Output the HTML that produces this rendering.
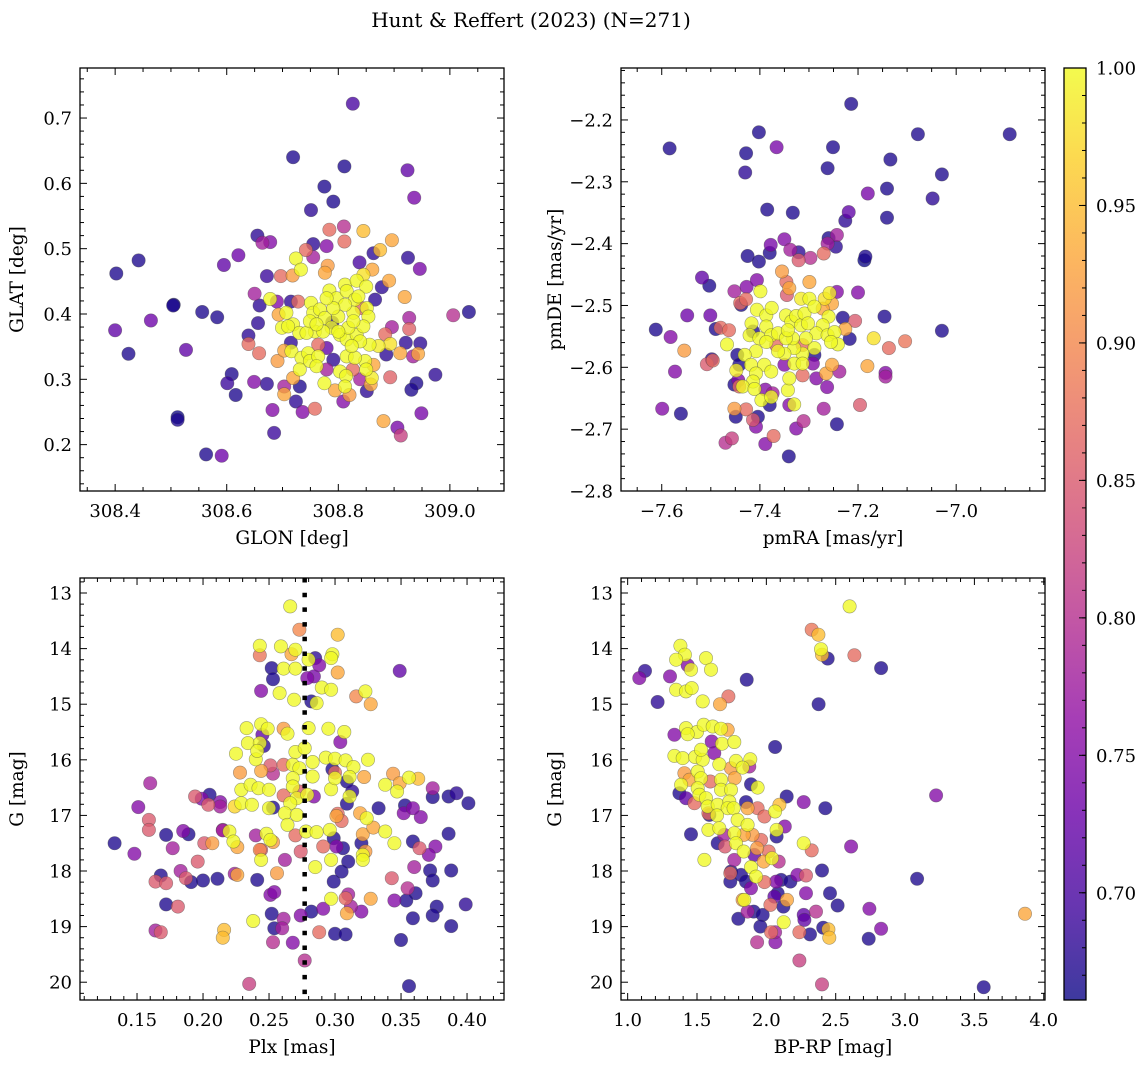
<!DOCTYPE html>
<html><head><meta charset="utf-8"><style>
html,body{margin:0;padding:0;background:#fff;}
svg{display:block;font-family:"DejaVu Serif","Liberation Serif",serif;}
</style></head><body>
<svg id="fig" width="1148" height="1068" viewBox="0 0 1148 1068" xmlns="http://www.w3.org/2000/svg">
<text x="531" y="27" font-size="20" text-anchor="middle">Hunt &amp; Reffert (2023) (N=271)</text>
</svg>
<script>
// ---------- DATA ----------
const tlPoints = [[308.826,0.722,.70],[308.719,0.640,.67],[308.811,0.626,.67],[308.924,0.620,.72],[308.775,0.595,.67],[308.936,0.578,.74],[308.791,0.572,.67],[308.751,0.559,.68],[308.402,0.462,.67],[308.442,0.482,.67],[308.504,0.413,.67],[308.505,0.414,.66],[308.556,0.403,.67],[308.583,0.395,.67],[308.400,0.375,.72],[308.464,0.390,.73],[308.424,0.339,.67],[308.527,0.345,.72],[308.595,0.475,.72],[308.621,0.490,.73],[308.655,0.520,.68],[308.664,0.509,.78],[308.678,0.510,.75],[308.672,0.458,.69],[308.609,0.308,.67],[308.601,0.294,.69],[308.616,0.276,.67],[308.512,0.242,.66],[308.512,0.238,.67],[308.563,0.185,.67],[308.591,0.183,.73],[308.649,0.296,.75],[308.672,0.293,.68],[308.682,0.253,.75],[308.685,0.218,.69],[308.703,0.289,.78],[308.703,0.277,.93],[308.731,0.289,.67],[308.724,0.266,.68],[308.736,0.250,.75],[308.758,0.255,.87],[308.809,0.266,.75],[308.820,0.276,.92],[308.794,0.283,.93],[308.851,0.282,.68],[308.858,0.292,.93],[308.839,0.300,.78],[308.893,0.303,.86],[308.940,0.294,.67],[308.931,0.284,.67],[308.974,0.307,.68],[308.949,0.248,.74],[308.881,0.236,.93],[308.906,0.226,.74],[308.912,0.214,.82],[309.034,0.403,.67],[309.006,0.398,.80],[308.925,0.486,.68],[308.946,0.469,.74],[308.896,0.513,.93],[308.875,0.498,.95],[308.845,0.527,.95],[308.784,0.529,.87],[308.810,0.534,.80],[308.811,0.511,.87],[308.779,0.504,.75],[308.755,0.507,.68],[308.742,0.498,.87],[308.755,0.487,.78],[308.863,0.493,.68],[308.838,0.479,.70],[308.781,0.474,.92],[308.776,0.463,.93],[308.697,0.458,.87],[308.718,0.459,.92],[308.861,0.468,.93],[308.891,0.451,.93],[308.878,0.441,.68],[308.919,0.426,.93],[308.650,0.431,.78],[308.659,0.413,.68],[308.656,0.386,.68],[308.927,0.394,.78],[308.927,0.377,.86],[308.896,0.380,.78],[308.884,0.369,.87],[308.921,0.356,.68],[308.947,0.355,.68],[308.911,0.340,.93],[308.934,0.335,.78],[308.943,0.339,.93],[308.886,0.338,.68],[308.863,0.322,.93],[308.826,0.315,.87],[308.639,0.367,.68],[308.639,0.354,.87],[308.658,0.340,.87],[308.691,0.328,.92],[308.703,0.344,.93],[308.719,0.302,.93],[308.715,0.356,.68],[308.693,0.399,.93],[308.690,0.419,.75],[308.715,0.419,.68],[308.728,0.419,.87],[308.789,0.387,.68],[308.791,0.330,.68],[308.779,0.315,.78],[308.779,0.348,.72],[308.764,0.353,.87],[308.866,0.422,.68],[308.842,0.409,.87],
[308.724,0.485,1],[308.733,0.468,1],[308.678,0.423,1],[308.707,0.402,1],[308.699,0.379,1],[308.719,0.384,1],[308.730,0.371,1],[308.716,0.343,1],[308.734,0.333,1],[308.746,0.340,1],[308.731,0.315,1],[308.749,0.328,1],[308.764,0.335,1],[308.751,0.417,1],[308.755,0.402,1],[308.767,0.407,1],[308.776,0.394,1],[308.784,0.436,1],[308.797,0.424,1],[308.812,0.445,1],[308.815,0.435,1],[308.833,0.451,1],[308.845,0.460,.98],[308.850,0.442,1],[308.830,0.422,1],[308.836,0.427,1],[308.851,0.409,1],[308.854,0.396,1],[308.827,0.402,1],[308.812,0.414,1],[308.800,0.396,1],[308.788,0.379,1],[308.803,0.368,1],[308.815,0.361,1],[308.833,0.368,1],[308.845,0.381,1],[308.856,0.353,1],[308.872,0.351,.99],[308.893,0.354,.98],[308.848,0.328,1],[308.850,0.315,1],[308.860,0.302,.99],[308.815,0.335,1],[308.830,0.333,1],[308.803,0.312,1],[308.814,0.305,1],[308.775,0.294,1],[308.812,0.289,1],[308.761,0.320,1],[308.758,0.373,1],[308.773,0.373,1],[308.743,0.371,1],[308.749,0.389,1],[308.710,0.381,1],[308.818,0.379,1],[308.827,0.389,1],[308.800,0.373,1],[308.839,0.358,1],[308.824,0.351,1],[308.791,0.409,1],[308.779,0.424,1],[308.761,0.384,1]];

const trPoints = [[-7.214,-2.174,.67],[-7.402,-2.220,.67],[-7.584,-2.246,.67],[-7.428,-2.254,.67],[-7.430,-2.285,.68],[-7.366,-2.244,.74],[-7.251,-2.244,.67],[-7.262,-2.278,.67],[-7.134,-2.264,.67],[-7.078,-2.223,.67],[-6.891,-2.223,.67],[-7.029,-2.288,.67],[-7.048,-2.327,.68],[-7.180,-2.319,.74],[-7.141,-2.311,.67],[-7.141,-2.358,.67],[-7.219,-2.349,.72],[-7.226,-2.363,.68],[-7.385,-2.345,.67],[-7.333,-2.350,.67],[-7.350,-2.393,.75],[-7.378,-2.402,.74],[-7.380,-2.415,.67],[-7.425,-2.420,.67],[-7.402,-2.429,.67],[-7.338,-2.410,.78],[-7.321,-2.414,.68],[-7.321,-2.427,.85],[-7.297,-2.423,.80],[-7.260,-2.391,.67],[-7.243,-2.386,.78],[-7.245,-2.405,.68],[-7.262,-2.400,.78],[-7.270,-2.416,.87],[-7.185,-2.421,.67],[-7.187,-2.427,.66],[-7.518,-2.455,.72],[-7.503,-2.468,.67],[-7.548,-2.516,.73],[-7.501,-2.516,.73],[-7.612,-2.539,.67],[-7.582,-2.551,.75],[-7.554,-2.573,.92],[-7.029,-2.541,.67],[-7.146,-2.518,.67],[-7.573,-2.607,.75],[-7.599,-2.667,.75],[-7.561,-2.675,.67],[-7.508,-2.595,.85],[-7.496,-2.589,.87],[-7.498,-2.587,.68],[-7.490,-2.538,.67],[-7.480,-2.536,.87],[-7.463,-2.540,.87],[-7.470,-2.722,.80],[-7.457,-2.715,.82],[-7.389,-2.724,.75],[-7.372,-2.711,.87],[-7.341,-2.744,.67],[-7.326,-2.699,.75],[-7.311,-2.687,.80],[-7.243,-2.692,.67],[-7.270,-2.667,.78],[-7.196,-2.661,.85],[-7.144,-2.609,.75],[-7.144,-2.615,.78],[-7.137,-2.569,.87],[-7.104,-2.558,.88],[-7.181,-2.598,.93],[-7.168,-2.553,.98],[-7.206,-2.525,.85],[-7.226,-2.538,.93],[-7.231,-2.520,.67],[-7.217,-2.554,.67],[-7.200,-2.479,.75],[-7.238,-2.607,.78],[-7.263,-2.632,.75],[-7.285,-2.618,.75],[-7.265,-2.610,.93],[-7.253,-2.596,.93],[-7.452,-2.667,.92],[-7.428,-2.668,.87],[-7.449,-2.680,.67],[-7.404,-2.680,.67],[-7.414,-2.685,.85],[-7.408,-2.696,.75],[-7.380,-2.661,.67],[-7.374,-2.642,.78],[-7.452,-2.628,.67],[-7.444,-2.621,.75],[-7.442,-2.631,.87],[-7.446,-2.580,.67],[-7.442,-2.596,.67],[-7.438,-2.499,.67],[-7.440,-2.496,.87],[-7.428,-2.490,.87],[-7.452,-2.477,.78],[-7.427,-2.470,.75],[-7.406,-2.459,.75],[-7.355,-2.445,.92],[-7.346,-2.462,.87],[-7.340,-2.472,.93],[-7.345,-2.483,.85],[-7.299,-2.462,.93],[-7.243,-2.478,.75],[-7.253,-2.497,.93],[-7.272,-2.505,.93],[-7.389,-2.636,.75],[-7.340,-2.661,.75],[-7.313,-2.613,.87],[-7.292,-2.594,.75],[-7.289,-2.580,.67],[-7.350,-2.596,.75],[-7.313,-2.564,.87],[-7.367,-2.564,.87],[-7.414,-2.542,.67],
[-7.399,-2.477,1],[-7.406,-2.507,1],[-7.387,-2.516,1],[-7.376,-2.504,1],[-7.417,-2.529,1],[-7.387,-2.534,1],[-7.421,-2.548,1],[-7.401,-2.553,1],[-7.377,-2.548,1],[-7.363,-2.545,1],[-7.347,-2.516,1],[-7.336,-2.526,1],[-7.326,-2.517,1],[-7.316,-2.532,1],[-7.309,-2.513,1],[-7.316,-2.489,.99],[-7.299,-2.489,1],[-7.289,-2.502,1],[-7.268,-2.489,.98],[-7.258,-2.480,.99],[-7.260,-2.518,1],[-7.272,-2.532,1],[-7.285,-2.545,1],[-7.262,-2.548,1],[-7.248,-2.543,1],[-7.241,-2.563,1],[-7.255,-2.559,1],[-7.289,-2.569,1],[-7.313,-2.578,1],[-7.330,-2.569,1],[-7.350,-2.578,1],[-7.333,-2.553,1],[-7.347,-2.553,1],[-7.363,-2.574,1],[-7.387,-2.559,1],[-7.408,-2.574,1],[-7.431,-2.580,1],[-7.448,-2.605,.99],[-7.418,-2.596,1],[-7.391,-2.596,1],[-7.377,-2.607,1],[-7.408,-2.610,1],[-7.414,-2.623,1],[-7.435,-2.631,1],[-7.411,-2.635,1],[-7.397,-2.653,1],[-7.377,-2.648,1],[-7.343,-2.637,1],[-7.340,-2.618,1],[-7.330,-2.594,1],[-7.313,-2.594,1],[-7.343,-2.540,1],[-7.306,-2.553,1],[-7.302,-2.529,1],[-7.467,-2.563,1],[-7.330,-2.660,1]];

const blPoints = [[0.266,13.24,1],[0.273,13.66,.9],[0.302,13.75,.95],[0.243,13.95,1],[0.243,14.12,.88],[0.259,13.96,1],[0.270,14.02,1],[0.267,14.10,.93],[0.285,14.17,.68],[0.280,14.20,1],[0.298,14.10,1],[0.297,14.17,1],[0.252,14.35,.67],[0.288,14.30,.75],[0.261,14.36,1],[0.270,14.36,1],[0.253,14.55,.67],[0.284,14.50,.74],[0.279,14.53,.75],[0.302,14.43,.93],[0.349,14.40,.72],[0.244,14.76,.75],[0.258,14.80,1],[0.290,14.70,1],[0.297,14.74,1],[0.269,14.92,1],[0.282,14.95,.67],[0.286,14.98,1],[0.316,14.86,.9],[0.323,14.77,1],[0.327,15.00,.93],[0.233,15.43,1],[0.244,15.36,1],[0.249,15.44,1],[0.261,15.44,.92],[0.264,15.53,1],[0.280,15.43,1],[0.295,15.44,1],[0.307,15.50,1],[0.304,15.68,.75],[0.245,15.55,.72],[0.234,15.70,1],[0.243,15.70,1],[0.246,15.75,.68],[0.225,15.89,1],[0.240,15.99,1],[0.241,15.84,1],[0.270,15.86,1],[0.277,15.79,1],[0.283,16.04,1],[0.293,15.96,1],[0.300,15.98,1],[0.308,16.01,1],[0.325,16.00,1],[0.314,16.13,1],[0.311,16.31,1],[0.251,16.10,.85],[0.261,16.09,.87],[0.228,16.23,.92],[0.244,16.20,.93],[0.253,16.25,.80],[0.298,16.17,.67],[0.300,16.23,.87],[0.322,16.31,.93],[0.344,16.25,.92],[0.356,16.32,1],[0.363,16.34,.95],[0.349,16.42,.93],[0.338,16.45,1],[0.347,16.57,1],[0.268,16.09,1],[0.273,16.15,1],[0.268,16.33,1],[0.283,16.30,1],[0.297,16.53,1],[0.300,16.33,1],[0.309,16.39,.67],[0.313,16.57,.68],[0.229,16.54,1],[0.236,16.45,1],[0.242,16.51,1],[0.250,16.54,1],[0.229,16.78,1],[0.237,16.81,1],[0.224,16.84,.97],[0.250,16.87,1],[0.253,16.86,.67],[0.268,16.48,1],[0.271,16.69,1],[0.266,16.78,1],[0.261,16.64,.87],[0.284,16.66,.75],[0.279,16.63,1],[0.273,16.57,.85],[0.311,16.66,1],[0.309,16.79,.67],[0.262,16.96,1],[0.271,16.99,1],[0.264,17.17,1],[0.319,16.96,.93],[0.324,17.05,1],[0.302,16.97,.87],[0.305,17.10,.87],[0.301,17.01,.93],[0.333,16.87,.67],[0.352,16.96,.75],[0.365,17.03,.75],[0.353,16.82,.67],[0.374,16.67,.67],[0.386,16.66,.67],[0.392,16.60,.68],[0.401,16.78,.67],[0.374,16.51,.78],[0.359,16.87,.75],[0.220,17.29,1],[0.223,17.47,1],[0.226,17.57,.93],[0.244,17.80,1],[0.243,17.62,.9],[0.240,17.36,.78],[0.248,17.33,1],[0.253,17.48,.92],[0.251,17.44,1],[0.215,17.26,.78],[0.270,17.36,.87],[0.278,17.29,1],[0.286,17.30,1],[0.296,17.26,1],[0.297,17.80,1],[0.321,17.71,1],[0.321,17.80,1],[0.299,17.41,.67],[0.306,17.59,.67],[0.301,17.56,.75],[0.291,17.56,.87],[0.285,17.93,1],[0.244,17.62,.85],[0.274,17.65,.85],[0.262,17.80,.78],[0.310,17.83,.67],[0.305,18.01,.67],[0.321,17.34,.93],[0.329,17.22,.93],[0.338,17.29,1],[0.345,17.50,1],[0.320,17.50,.67],[0.323,17.65,.92],[0.376,17.56,.75],[0.364,17.59,.85],[0.371,17.71,.75],[0.359,17.47,.67],[0.386,17.33,.67],[0.360,17.93,.78],[0.372,17.99,.67],[0.374,18.17,.67],[0.388,17.99,.67],[0.355,18.31,.80],[0.361,18.40,.67],[0.354,18.53,.67],[0.345,18.53,.75],[0.377,18.64,.67],[0.374,18.80,.67],[0.359,18.85,.67],[0.388,18.99,.67],[0.399,18.60,.68],[0.350,19.24,.67],[0.356,20.07,.67],[0.343,18.13,.85],[0.327,18.50,.93],[0.308,18.49,.87],[0.309,18.76,.93],[0.312,18.64,.78],[0.320,18.73,.75],[0.310,18.42,.78],[0.297,18.50,1],[0.299,18.19,.67],[0.282,18.73,.67],[0.291,18.68,.75],[0.274,18.80,.75],[0.252,18.77,.67],[0.261,18.86,.78],[0.260,19.03,.78],[0.254,19.03,.67],[0.288,19.10,.87],[0.300,19.13,.67],[0.308,19.14,.67],[0.253,19.28,.80],[0.268,19.29,.75],[0.277,19.61,.80],[0.235,20.03,.82],[0.238,18.90,1],[0.216,19.06,.95],[0.215,19.20,.95],[0.251,18.43,.75],[0.254,18.38,.75],[0.241,18.16,.67],[0.256,18.04,.92],[0.226,18.07,.93],[0.224,18.05,.78],[0.211,18.14,.67],[0.200,18.17,.67],[0.191,18.20,.67],[0.187,18.13,.85],[0.183,18.00,.78],[0.168,18.08,.67],[0.164,18.19,.85],[0.172,18.22,.85],[0.172,18.60,.67],[0.181,18.64,.85],[0.164,19.07,.78],[0.168,19.10,.85],[0.133,17.50,.67],[0.148,17.69,.75],[0.151,16.85,.75],[0.160,16.42,.78],[0.159,17.08,.85],[0.159,17.26,.85],[0.172,17.35,.67],[0.177,17.59,.78],[0.185,17.28,.75],[0.189,17.34,.67],[0.196,17.83,.85],[0.201,17.50,.85],[0.207,17.50,.92],[0.215,17.27,.78],[0.194,16.66,.85],[0.205,16.63,.67],[0.213,16.76,.75],[0.204,16.81,.85],[0.213,16.84,.78],[0.199,16.70,.75]];

const brPoints = [[2.600,13.24,1],[2.327,13.66,.88],[2.375,13.75,.95],[2.394,14.01,1],[2.401,14.11,.95],[2.442,14.18,.67],[2.635,14.12,.87],[2.827,14.35,.67],[1.380,13.95,1],[1.413,14.11,1],[1.349,14.20,1],[1.433,14.30,.75],[1.457,14.38,1],[1.565,14.17,1],[1.601,14.38,1],[1.125,14.40,.68],[1.084,14.53,.75],[1.305,14.50,.75],[1.858,14.56,.67],[1.349,14.74,1],[1.421,14.77,1],[1.462,14.71,1],[1.216,14.96,.68],[1.541,14.95,1],[1.726,14.86,.87],[1.666,15.00,.93],[2.377,15.00,.67],[1.421,15.43,1],[1.500,15.50,1],[1.548,15.37,1],[1.613,15.40,1],[1.673,15.44,1],[1.721,15.46,.93],[1.337,15.55,.75],[1.433,15.54,1],[1.606,15.67,.75],[1.680,15.71,1],[1.769,15.68,1],[2.063,15.77,.67],[1.337,15.93,1],[1.397,15.97,1],[1.486,15.95,1],[1.541,16.00,1],[1.625,15.88,.75],[1.529,15.82,1],[1.661,16.08,1],[1.781,16.02,1],[1.884,15.99,1],[1.829,16.14,1],[1.745,16.15,.92],[1.877,16.12,.78],[1.409,16.24,.92],[1.505,16.21,1],[1.529,16.33,1],[1.445,16.36,.93],[1.385,16.45,1],[1.505,16.51,1],[1.517,16.63,1],[1.596,16.39,.87],[1.673,16.36,1],[1.772,16.33,.93],[1.673,16.54,1],[1.745,16.54,1],[1.889,16.44,.67],[1.937,16.50,1],[1.373,16.60,.67],[1.421,16.69,.72],[1.481,16.78,.87],[1.565,16.69,1],[1.577,16.84,1],[1.649,16.81,1],[1.733,16.75,1],[1.721,16.87,1],[2.147,16.66,.67],[2.269,16.76,.75],[2.425,16.87,.67],[1.644,17.00,1],[1.582,16.96,.87],[1.853,16.76,.67],[1.865,16.87,.93],[1.937,16.87,.87],[2.063,16.93,1],[2.094,16.81,.95],[1.589,16.99,.67],[1.986,17.02,.87],[1.764,16.87,1],[1.793,17.08,1],[1.865,17.17,1],[1.582,17.26,1],[1.661,17.23,1],[1.697,17.35,.78],[1.457,17.34,.67],[1.553,17.80,1],[1.649,17.50,.67],[1.702,17.56,.85],[1.769,17.32,1],[1.781,17.50,1],[1.837,17.35,.93],[1.900,17.35,.92],[1.933,17.59,.92],[1.962,17.44,.87],[2.074,17.26,1],[2.074,17.38,.67],[2.133,17.20,.75],[1.837,17.65,1],[1.913,17.71,.72],[2.017,17.65,.87],[2.041,17.77,1],[2.089,17.83,.80],[1.981,17.83,.93],[1.769,17.80,.78],[2.269,17.50,1],[2.327,17.63,.87],[2.611,17.56,.75],[1.889,17.93,1],[1.925,18.10,1],[1.889,18.31,.75],[1.745,18.01,.67],[1.740,18.04,.87],[1.740,18.19,.67],[1.817,18.07,.67],[1.853,18.19,.67],[1.986,18.20,.87],[2.070,18.19,.75],[2.106,18.16,.67],[2.173,18.19,.67],[2.224,18.07,.75],[2.286,18.08,.85],[2.401,17.99,.67],[3.087,18.14,.67],[3.224,16.64,.75],[2.286,18.40,.75],[2.459,18.40,.67],[2.514,18.62,.67],[1.829,18.52,.92],[1.841,18.52,1],[2.082,18.40,.67],[2.058,18.46,.72],[2.029,18.61,.87],[2.149,18.52,.93],[2.123,18.64,.67],[1.865,18.73,.78],[1.909,18.73,.67],[1.974,18.79,.67],[1.798,18.86,.67],[2.269,18.79,.72],[2.274,18.88,.72],[2.358,18.73,.80],[2.125,18.92,1],[1.957,19.00,.67],[2.743,18.68,.75],[2.827,19.04,.75],[2.738,19.22,.67],[2.238,19.10,.87],[2.315,19.14,.67],[2.410,19.02,.67],[2.447,19.05,.95],[2.454,19.20,.95],[2.034,19.10,.87],[2.063,19.10,.78],[2.065,19.28,.75],[1.933,19.28,.80],[2.238,19.61,.82],[2.401,20.04,.82],[3.567,20.09,.67],[3.865,18.77,.93]];

const plxMedian = 0.277;
const colorMin = 0.661, colorMax = 1.0;
const cbarTicks = ["0.70","0.75","0.80","0.85","0.90","0.95","1.00"];

// ---------- RENDER ----------
const NS = "http://www.w3.org/2000/svg";
const svg = document.getElementById('fig');
function mk(tag, attrs, parent){const e=document.createElementNS(NS,tag);for(const k in attrs)e.setAttribute(k,attrs[k]);(parent||svg).appendChild(e);return e;}

const plasmaStops=[[13,8,135],[65,4,157],[106,0,168],[143,13,164],[177,42,144],[204,71,120],[225,100,98],[242,132,75],[252,166,54],[252,206,37],[240,249,33]];
function plasma(t){t=Math.max(0,Math.min(1,t));const s=t*10,i=Math.min(9,Math.floor(s)),f=s-i;const a=plasmaStops[i],b=plasmaStops[i+1];return `rgb(${Math.round(a[0]+(b[0]-a[0])*f)},${Math.round(a[1]+(b[1]-a[1])*f)},${Math.round(a[2]+(b[2]-a[2])*f)})`;}
function colorOf(p){return plasma((p-colorMin)/(colorMax-colorMin));}

const panels=[
 {name:'glon-glat',pts:tlPoints,L:80,T:68,W:424,H:423,x0:308.337,x1:309.097,y0:0.129,y1:0.7766,inv:false,xM:0.2,xm:0.05,yM:0.1,ym:0.02,xf:v=>v.toFixed(1),yf:v=>v.toFixed(1),xl:'GLON [deg]',yl:'GLAT [deg]'},
 {name:'pmra-pmde',pts:trPoints,L:621,T:68,W:424,H:423,x0:-7.683,x1:-6.819,y0:-2.8,y1:-2.116,inv:false,xM:0.2,xm:0.05,yM:0.1,ym:0.02,xf:v=>v.toFixed(1).replace('-','\u2212'),yf:v=>v.toFixed(1).replace('-','\u2212'),xl:'pmRA [mas/yr]',yl:'pmDE [mas/yr]'},
 {name:'plx-g',pts:blPoints,L:80,T:578,W:424,H:422,x0:0.1068,x1:0.428,y0:12.73,y1:20.32,inv:true,xM:0.05,xm:0.01,yM:1,ym:0.2,xf:v=>v.toFixed(2),yf:v=>v.toFixed(0),xl:'Plx [mas]',yl:'G [mag]'},
 {name:'bprp-g',pts:brPoints,L:621,T:578,W:424,H:422,x0:0.952,x1:4.009,y0:12.73,y1:20.32,inv:true,xM:0.5,xm:0.1,yM:1,ym:0.2,xf:v=>v.toFixed(1),yf:v=>v.toFixed(0),xl:'BP-RP [mag]',yl:'G [mag]'}
];

function ticks(a,b,step){const out=[];let k=Math.ceil(a/step-1e-6);for(;k*step<=b+1e-9;k++)out.push(+(k*step).toFixed(6));return out;}

panels.forEach((P,pi)=>{
 const sx=v=>P.L+(v-P.x0)/(P.x1-P.x0)*P.W;
 const sy=P.inv?(v=>P.T+(v-P.y0)/(P.y1-P.y0)*P.H):(v=>P.T+P.H-(v-P.y0)/(P.y1-P.y0)*P.H);
 const g=mk('g',{});
 
 
 const clipId='clip'+pi;
 const cp=mk('clipPath',{id:clipId},g);mk('rect',{x:P.L,y:P.T,width:P.W,height:P.H},cp);
 const pg=mk('g',{'clip-path':`url(#${clipId})`},g);
 
 
 const sorted=P.pts.slice().sort((a,b)=>a[2]-b[2]);
 sorted.forEach(d=>{
  const c=mk('circle',{cx:sx(d[0]).toFixed(1),cy:sy(d[1]).toFixed(1),r:6.7,fill:colorOf(d[2]),'fill-opacity':0.78,stroke:'#444','stroke-opacity':0.5,'stroke-width':0.6},pg);
  
  
 });
 if(P.name==='plx-g'){
  const ln=mk('line',{x1:sx(plxMedian),x2:sx(plxMedian),y1:P.T,y2:P.T+P.H,stroke:'#000','stroke-width':4.5,'stroke-dasharray':'4.5 10.2'},pg);
  
  
 }
 const tg=mk('g',{stroke:'#000','stroke-width':1},g);
 
 
 ticks(P.x0,P.x1,P.xm).forEach(v=>{const x=sx(v);const major=Math.abs(v/P.xM-Math.round(v/P.xM))<1e-4;const len=major?7:4;
  mk('line',{x1:x,x2:x,y1:P.T+P.H,y2:P.T+P.H-len},tg);mk('line',{x1:x,x2:x,y1:P.T,y2:P.T+len},tg);
  if(major){const t=mk('text',{x:x,y:P.T+P.H+26,'font-size':18,'text-anchor':'middle',stroke:'none',fill:'#000'},g);t.textContent=P.xf(v);
   }
 });
 ticks(P.y0,P.y1,P.ym).forEach(v=>{const y=sy(v);const major=Math.abs(v/P.yM-Math.round(v/P.yM))<1e-4;const len=major?7:4;
  mk('line',{x1:P.L,x2:P.L+len,y1:y,y2:y},tg);mk('line',{x1:P.L+P.W,x2:P.L+P.W-len,y1:y,y2:y},tg);
  if(major){const t=mk('text',{x:P.L-8,y:y+6.5,'font-size':18,'text-anchor':'end',stroke:'none',fill:'#000'},g);t.textContent=P.yf(v);
   }
 });
 const fr=mk('rect',{x:P.L,y:P.T,width:P.W,height:P.H,fill:'none',stroke:'#000','stroke-width':1.3},g);
 
 
 const xl=mk('text',{x:P.L+P.W/2,y:P.T+P.H+53,'font-size':18.5,'text-anchor':'middle'},g);xl.textContent=P.xl;
 
 const yx=P.L-(pi%2===0?57:60), yy=P.T+P.H/2;
 const yl=mk('text',{x:yx,y:yy,'font-size':18.5,'text-anchor':'middle',transform:`rotate(-90 ${yx} ${yy})`},g);yl.textContent=P.yl;
 
});

// colorbar
const CB={L:1064,T:68,W:22,H:932};
const defs=mk('defs',{});
const grad=mk('linearGradient',{id:'plasmaGrad',x1:0,y1:1,x2:0,y2:0},defs);
for(let i=0;i<=20;i++){mk('stop',{offset:(i/20),'stop-color':plasma(i/20),'stop-opacity':0.8},grad);}
const cbg=mk('g',{});


mk('rect',{x:CB.L,y:CB.T,width:CB.W,height:CB.H,fill:'url(#plasmaGrad)'},cbg);
mk('rect',{x:CB.L,y:CB.T,width:CB.W,height:CB.H,fill:'none',stroke:'#000','stroke-width':1.3},cbg);
const cy=v=>CB.T+CB.H-(v-colorMin)/(colorMax-colorMin)*CB.H;
ticks(colorMin,colorMax,0.01).forEach(v=>{const y=cy(v);mk('line',{x1:CB.L+CB.W,x2:CB.L+CB.W-4,y1:y,y2:y,stroke:'#000','stroke-width':1},cbg);});
cbarTicks.forEach(s=>{const v=parseFloat(s);const y=cy(v);
 mk('line',{x1:CB.L+CB.W,x2:CB.L+CB.W-7,y1:y,y2:y,stroke:'#000','stroke-width':1},cbg);
 const t=mk('text',{x:CB.L+CB.W+10,y:y+6.5,'font-size':18},cbg);t.textContent=s;
 
});
</script>
</body></html>
